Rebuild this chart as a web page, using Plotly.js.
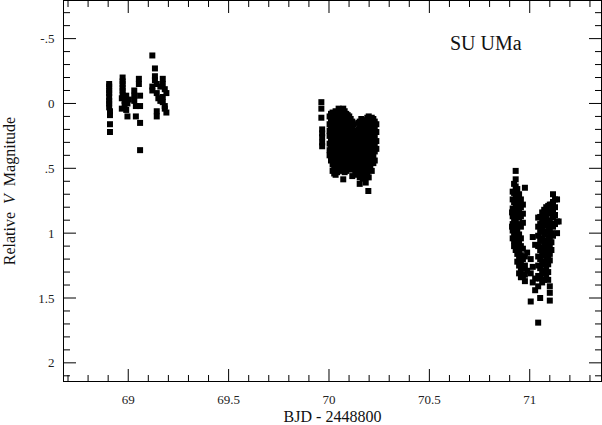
<!DOCTYPE html>
<html>
<head>
<meta charset="utf-8">
<script src="https://cdn.plot.ly/plotly-3.0.1.min.js"></script>
<style>
  body { margin: 0; background: #fff; }
  #chart { width: 602px; height: 425px; }
</style>
</head>
<body>
<div id="chart"></div>
<script>
// each entry: [BJD - 2448800, [relative V magnitudes read at that time]]
const night1 = [
  [68.905, [-0.15, -0.13, -0.10, -0.08, -0.05, -0.02, 0.00, 0.03]],
  [68.909, [0.06, 0.09, 0.16, 0.22]],
  [68.968, [-0.04, 0.04]],
  [68.972, [-0.20, -0.17, -0.15, -0.12, -0.10, -0.07]],
  [68.982, [-0.02, 0.01]],
  [68.990, [-0.06, 0.05]],
  [68.996, [0.00, 0.10]],
  [69.003, [-0.03]],
  [69.030, [-0.10, -0.06, -0.02]],
  [69.038, [0.02, 0.10]],
  [69.053, [-0.19, -0.15]],
  [69.059, [-0.06, 0.02, 0.15, 0.36]],
  [69.120, [-0.37, -0.10, -0.13]],
  [69.133, [-0.27, -0.21, -0.18]],
  [69.142, [-0.15, -0.08, 0.06, 0.10]],
  [69.150, [-0.04]],
  [69.160, [-0.13, -0.02]],
  [69.172, [-0.19, -0.15, -0.05, -0.01]],
  [69.182, [-0.11, 0.02, 0.04]],
  [69.190, [-0.08, 0.07]]
];

const night2 = [
  [69.962, [-0.01, 0.04, 0.11]],
  [69.966, [0.20, 0.23, 0.26, 0.30, 0.33]],
  [70.003, [0.10, 0.16, 0.21, 0.25, 0.31, 0.36, 0.40]],
  [70.010, [0.08, 0.14, 0.19, 0.27, 0.33, 0.38, 0.44]],
  [70.018, [0.07, 0.12, 0.18, 0.23, 0.29, 0.34, 0.41, 0.47, 0.52]],
  [70.026, [0.09, 0.15, 0.21, 0.26, 0.30, 0.37, 0.43, 0.49, 0.54]],
  [70.033, [0.06, 0.11, 0.17, 0.24, 0.28, 0.33, 0.39, 0.45, 0.50, 0.55]],
  [70.041, [0.08, 0.13, 0.20, 0.26, 0.31, 0.36, 0.42, 0.47, 0.53]],
  [70.048, [0.04, 0.10, 0.15, 0.22, 0.27, 0.34, 0.40, 0.44, 0.51]],
  [70.056, [0.07, 0.12, 0.18, 0.25, 0.29, 0.35, 0.41, 0.48, 0.52]],
  [70.063, [0.05, 0.11, 0.16, 0.21, 0.28, 0.32, 0.38, 0.43, 0.50]],
  [70.071, [0.04, 0.09, 0.14, 0.20, 0.26, 0.33, 0.37, 0.45, 0.49, 0.585]],
  [70.078, [0.06, 0.12, 0.17, 0.23, 0.30, 0.35, 0.40, 0.46, 0.53]],
  [70.086, [0.08, 0.15, 0.19, 0.24, 0.31, 0.36, 0.42, 0.47, 0.52]],
  [70.093, [0.09, 0.13, 0.21, 0.27, 0.33, 0.39, 0.44, 0.50]],
  [70.101, [0.10, 0.16, 0.22, 0.28, 0.34, 0.38, 0.45, 0.49]],
  [70.108, [0.12, 0.18, 0.25, 0.30, 0.35, 0.41, 0.46, 0.51]],
  [70.116, [0.14, 0.20, 0.26, 0.32, 0.37, 0.43, 0.48, 0.56]],
  [70.123, [0.16, 0.22, 0.27, 0.33, 0.39, 0.44, 0.50]],
  [70.131, [0.21, 0.26, 0.31, 0.36, 0.42, 0.47, 0.52]],
  [70.138, [0.22, 0.28, 0.34, 0.38, 0.44, 0.49, 0.55]],
  [70.146, [0.15, 0.20, 0.25, 0.31, 0.36, 0.41, 0.47, 0.53]],
  [70.153, [0.14, 0.19, 0.24, 0.30, 0.35, 0.40, 0.46, 0.51, 0.57, 0.62]],
  [70.161, [0.12, 0.17, 0.23, 0.28, 0.33, 0.39, 0.44, 0.49, 0.55]],
  [70.168, [0.13, 0.18, 0.22, 0.29, 0.34, 0.37, 0.43, 0.48, 0.54, 0.58]],
  [70.176, [0.15, 0.21, 0.26, 0.31, 0.36, 0.42, 0.47, 0.52, 0.57]],
  [70.183, [0.13, 0.18, 0.24, 0.29, 0.35, 0.40, 0.45, 0.50, 0.56, 0.61]],
  [70.191, [0.11, 0.16, 0.22, 0.27, 0.32, 0.38, 0.43, 0.49, 0.53]],
  [70.196, [0.675]],
  [70.198, [0.10, 0.15, 0.20, 0.26, 0.31, 0.37, 0.42, 0.48, 0.57]],
  [70.206, [0.12, 0.17, 0.23, 0.28, 0.34, 0.39, 0.44, 0.50]],
  [70.213, [0.11, 0.16, 0.21, 0.27, 0.33, 0.38, 0.43, 0.52]],
  [70.221, [0.12, 0.18, 0.24, 0.30, 0.35, 0.41, 0.46]],
  [70.228, [0.14, 0.19, 0.25, 0.31, 0.37, 0.44]],
  [70.236, [0.16, 0.22, 0.29, 0.35]]
];

const night3 = [
  [70.912, [0.84, 0.95]],
  [70.915, [0.68, 0.74, 0.81, 0.87, 0.93, 0.98, 1.04]],
  [70.922, [0.62, 0.69, 0.76, 0.83, 0.89, 0.95, 1.00, 1.06, 1.10]],
  [70.930, [0.52, 0.585, 0.64, 0.71, 0.77, 0.84, 0.90, 0.96, 1.02, 1.08, 1.13]],
  [70.938, [0.66, 0.73, 0.79, 0.86, 0.93, 0.99, 1.05, 1.11, 1.16, 1.22]],
  [70.947, [0.70, 0.76, 0.82, 0.88, 0.94, 1.01, 1.07, 1.14, 1.19, 1.25, 1.31]],
  [70.956, [0.74, 0.80, 0.87, 0.95, 1.04, 1.10, 1.17, 1.23, 1.28, 1.34]],
  [70.966, [0.78, 0.85, 0.92, 1.12, 1.20, 1.27, 1.33]],
  [70.976, [0.65, 1.18, 1.25, 1.32, 1.37]],
  [70.987, [1.15, 1.29]],
  [71.005, [1.20, 1.31, 1.527]],
  [71.015, [1.03, 1.26, 1.38]],
  [71.027, [1.09, 1.35, 1.44]],
  [71.042, [0.88, 0.95, 1.02, 1.10, 1.18, 1.25, 1.33, 1.41, 1.69]],
  [71.052, [0.875, 0.93, 0.99, 1.06, 1.13, 1.20, 1.27, 1.35, 1.50]],
  [71.062, [0.84, 0.90, 0.97, 1.04, 1.11, 1.17, 1.24, 1.31, 1.38]],
  [71.072, [0.82, 0.88, 0.94, 1.01, 1.08, 1.15, 1.22, 1.29, 1.36]],
  [71.082, [0.80, 0.86, 0.92, 0.99, 1.06, 1.12, 1.19, 1.26, 1.33]],
  [71.092, [0.79, 0.85, 0.91, 0.97, 1.04, 1.10, 1.17, 1.24, 1.30, 1.36]],
  [71.100, [0.78, 0.83, 0.90, 0.96, 1.03, 1.09, 1.16, 1.21, 1.41, 1.46, 1.52]],
  [71.108, [0.78, 0.84, 0.93, 1.00, 1.07, 1.13]],
  [71.116, [0.70, 0.76, 0.82, 0.88, 0.95, 1.02]],
  [71.126, [0.74, 0.80, 0.86, 0.93]],
  [71.136, [0.74, 0.91, 1.00]],
  [71.144, [0.91]]
];

const xTicks = [69, 69.5, 70, 70.5, 71];
const xTickText = ["69", "69.5", "70", "70.5", "71"];
const yTicks = [-0.5, 0, 0.5, 1, 1.5, 2];
const yTickText = ["-.5", "0", ".5", "1", "1.5", "2"];
const xRange = [68.68, 71.355];
const yRange = [2.14, -0.79];

// flatten the night tables into x / y lists
let bjd = [];
let mag = [];
[night1, night2, night3].forEach(function (night) {
  night.forEach(function (row) {
    row[1].forEach(function (m) {
      bjd.push(row[0]);
      mag.push(m);
    });
  });
});

const serif = "Liberation Serif, Times New Roman, serif";

// inward tick marks on all four sides, placed through the axis scales
let shapes = [];
function tickX(v, len) {
  [[0, len], [1, -len]].forEach(function (s) {
    shapes.push({ type: "line", layer: "above", xref: "x", yref: "paper", ysizemode: "pixel",
      yanchor: s[0], x0: v, x1: v, y0: 0, y1: s[1], line: { color: "#000", width: 1 } });
  });
}
function tickY(v, len) {
  [[0, len], [1, -len]].forEach(function (s) {
    shapes.push({ type: "line", layer: "above", yref: "y", xref: "paper", xsizemode: "pixel",
      xanchor: s[0], y0: v, y1: v, x0: 0, x1: s[1], line: { color: "#000", width: 1 } });
  });
}
for (let i = 687; i <= 713; i++) {
  let v = i / 10;
  tickX(v, xTicks.indexOf(v) >= 0 ? 12 : 6);
}
for (let i = -7; i <= 21; i++) {
  let v = i / 10;
  tickY(v, yTicks.indexOf(v) >= 0 ? 12 : 6);
}

var data = [{
  x: bjd,
  y: mag,
  mode: "markers",
  type: "scatter",
  marker: { symbol: "square", size: 6, color: "#000" }
}];

var axisCommon = {
  showgrid: false,
  zeroline: false,
  showline: true,
  linecolor: "#000",
  mirror: true,
  ticks: "",
  ticklabelstandoff: 6,
  tickfont: { family: serif, size: 13, color: "#222" }
};

var layout = {
  width: 602,
  height: 425,
  margin: { l: 64, r: 1, t: 1, b: 44 },
  showlegend: false,
  xaxis: Object.assign({}, axisCommon, {
    range: xRange,
    tickvals: xTicks,
    ticktext: xTickText,
    title: { text: "BJD - 2448800", font: { family: serif, size: 16, color: "#111" }, standoff: 14 }
  }),
  yaxis: Object.assign({}, axisCommon, {
    range: yRange,
    tickvals: yTicks,
    ticktext: yTickText,
    title: { text: "Relative\u00a0\u00a0<i>V</i>\u00a0\u00a0Magnitude", font: { family: serif, size: 16, color: "#111" }, standoff: 18 }
  }),
  shapes: shapes,
  annotations: [{
    text: "SU UMa",
    xref: "paper", yref: "paper",
    x: 0.785, y: 0.889,
    xanchor: "center", yanchor: "middle",
    showarrow: false,
    font: { family: serif, size: 20, color: "#111" }
  }]
};

Plotly.newPlot("chart", data, layout, { displayModeBar: false });
</script>
</body>
</html>
